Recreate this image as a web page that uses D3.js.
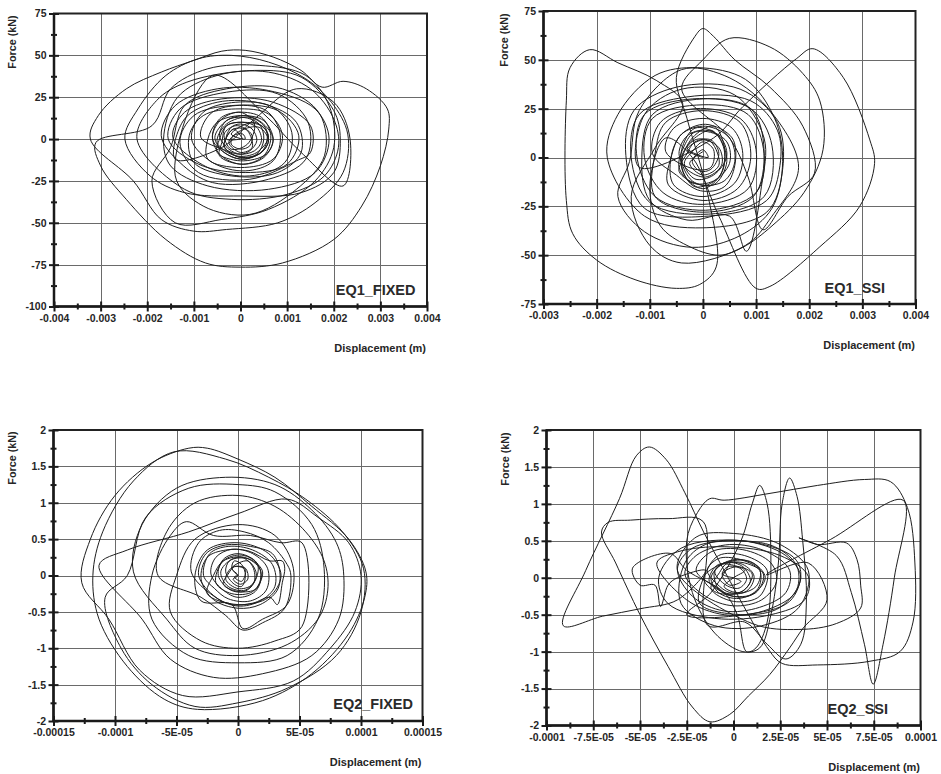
<!DOCTYPE html>
<html>
<head>
<meta charset="utf-8">
<script src="https://cdn.jsdelivr.net/npm/d3@7"></script>
<style>
  body { margin: 0; background: #fff; }
  svg text { font-family: "Liberation Sans", Arial, sans-serif; font-weight: bold; fill: #262626; }
</style>
</head>
<body>
<svg id="chart" width="941" height="774"></svg>
<script>
// ---- tick values / labels ----
const eq1FixedXTicks = [-0.004, -0.003, -0.002, -0.001, 0, 0.001, 0.002, 0.003, 0.004];
const eq1FixedXLabels = ['-0.004', '-0.003', '-0.002', '-0.001', '0', '0.001', '0.002', '0.003', '0.004'];
const eq1FixedYTicks = [-100, -75, -50, -25, 0, 25, 50, 75];
const eq1SsiXTicks = [-0.003, -0.002, -0.001, 0, 0.001, 0.002, 0.003, 0.004];
const eq1SsiXLabels = ['-0.003', '-0.002', '-0.001', '0', '0.001', '0.002', '0.003', '0.004'];
const eq1SsiYTicks = [-75, -50, -25, 0, 25, 50, 75];
const eq2FixedXTicks = [-0.00015, -0.0001, -0.00005, 0, 0.00005, 0.0001, 0.00015];
const eq2FixedXLabels = ['-0.00015', '-0.0001', '-5E-05', '0', '5E-05', '0.0001', '0.00015'];
const eq2SsiXTicks = [-0.0001, -0.000075, -0.00005, -0.000025, 0, 0.000025, 0.00005, 0.000075, 0.0001];
const eq2SsiXLabels = ['-0.0001', '-7.5E-05', '-5E-05', '-2.5E-05', '0', '2.5E-05', '5E-05', '7.5E-05', '0.0001'];
const eq2YTicks = [-2, -1.5, -1, -0.5, 0, 0.5, 1, 1.5, 2];

// ---- loops: [displacement, force (kN)] ----
// EQ1 displacement columns are in mm, EQ2 in 1E-05 m
const eq1Unit = 1e-3;
const eq2Unit = 1e-5;

const eq1FixedBuild = [
  [0,0],[-0.3,0],[-0.2,7],[0,9],[0.25,6],[0.35,-1],[0.2,-7],[0,-9],[-0.25,-6],
  [-0.45,2],[-0.3,11],[0.05,13],[0.4,9],[0.5,0],[0.35,-9],[0,-12],[-0.35,-8],
  [-0.6,0],[-0.45,12],[-0.05,16],[0.45,13],[0.65,2],[0.5,-10],[0.05,-15],[-0.45,-10],
  [-0.4,-2],[-0.3,8],[0.1,10],[0.5,7],[0.6,-1],[0.45,-8],[0,-11],[-0.3,-7],
  [-0.85,1],[-0.65,15],[-0.1,20],[0.55,17],[0.85,3],[0.7,-13],[0.1,-19],[-0.6,-14],
  [-1.05,0],[-0.8,16],[-0.1,22],[0.7,19],[1.1,4],[0.95,-14],[0.2,-22],[-0.7,-17],
  [-1.45,1],[-1.2,16],[-0.4,24],[0.7,22],[1.5,8],[1.5,-8],[1.2,-13],[0.2,-24],[-0.9,-20],
  [-1.3,-2],[-1.0,14],[-0.2,20],[0.8,17],[1.25,2],[1.0,-15],[0.1,-20],[-0.9,-15],
  [-1.55,0],[-1.3,18],[-0.3,28],[0.8,27],[1.45,10],[1.4,-12],[0.6,-24],[-0.6,-26],[-1.3,-14],
  [-1.7,2],[-1.4,20],[-0.5,30],[0.6,29],[1.6,18],[1.9,0],[1.6,-20],[0.6,-30],[-0.7,-28],[-1.5,-16]
];
const eq1FixedPeak = [
  [-1.65,0],[-1.35,25],[-0.5,38],[0.6,40],[1.5,30],[2.0,12],[2.1,-5],[1.8,-22],[1.0,-33],[-0.2,-36],[-1.2,-30],
  [-2.22,0],[-1.8,23],[-1.15,34],[0.3,41],[1.3,37],[2.0,17],[2.14,0],[2.0,-20],[1.3,-32],[0,-34],[-1.2,-32],[-1.94,-22],
  [-2.48,0],[-2.2,18],[-1.6,38],[-0.9,48],[-0.2,50],[0.6,46],[1.4,36],[1.95,22],[2.3,3],[2.2,-20],[1.6,-38],[0.8,-50],[-0.3,-54],[-1.0,-55],[-1.7,-48],[-2.3,-25],
  [-3.22,0],[-3.05,14],[-2.45,30],[-1.7,40],[-1.0,47],[-0.4,52.5],[0.1,53],[0.7,49],[1.3,41],[1.75,31],[2.2,34.5],[2.7,30],[3.15,18],[3.18,6],[3.0,-16],[2.6,-40],[2.0,-60],[0.9,-74],[0,-76.5],[-0.75,-74],[-1.6,-60],[-2.45,-36],[-3.0,-16],[-3.1,-2],
  [-1.9,8],[-1.5,30],[-0.7,42],[0.4,44],[1.4,38],[1.9,20],[2.0,-5],[1.6,-25],[0.6,-42],[-0.4,-48],[-1.4,-50],[-1.9,-25],
  [-1.5,-5],[-1.2,20],[-0.3,30],[0.9,30],[1.7,15],[1.8,-10],[1.2,-30],[0.2,-45],[-0.8,-40],[-1.4,-22],
  [-0.6,38],[0.5,15],[1.3,-8],[2.2,-28],[2.35,0],[2.0,22],[1.2,30],[0.3,12],[-0.4,-5]
];
const eq1FixedDecay = [
  [-1.4,-12],[-1.2,12],[-0.5,22],[0.5,21],[1.2,10],[1.3,-8],[0.8,-20],[-0.2,-22],[-1.0,-14],
  [-1.1,2],[-0.8,14],[-0.1,18],[0.6,15],[0.9,2],[0.7,-12],[0,-17],[-0.7,-12],
  [-0.7,0],[-0.5,10],[0,14],[0.5,11],[0.7,0],[0.55,-9],[0,-13],[-0.5,-8],
  [-0.45,0],[-0.3,8],[0.05,10],[0.35,7],[0.45,-1],[0.3,-7],[-0.05,-9],[-0.35,-5],
  [-0.3,1],[-0.15,6],[0.1,6],[0.25,2],[0.2,-4],[0,-6],[-0.2,-3],[-0.15,2],[0.05,3],[0.1,0]
];
const eq1FixedCore = [
  [-0.2,3],[0.3,10],[0.6,2],[0.35,-8],[-0.1,-10],[-0.5,-2],[-0.3,9],[0.2,13],[0.55,6],[0.5,-6],
  [0.1,-12],[-0.35,-8],[-0.55,1],[-0.3,11],[0.1,14],[0.45,10],[0.7,0],[0.5,-11],[0,-15],[-0.45,-9],
  [-0.6,2],[-0.4,12],[0,16],[0.3,9],[0.15,-3],[-0.2,-6],[-0.35,3],[-0.1,8],[0.15,5],[0.25,-5],
  [0,-8],[-0.25,-2],[0,5],[0.4,7],[0.6,-1],[0.4,-9],[0,-11],[-0.35,-4],[-0.15,6],[0.05,0]
];

const eq1SsiBuild = [
  [0,0],[-0.3,4],[0,9],[0.3,5],[0.35,-4],[0.05,-10],[-0.3,-6],
  [-0.45,2],[-0.3,11],[0.05,14],[0.45,8],[0.5,-3],[0.2,-12],[-0.2,-13],[-0.45,-5],
  [-0.35,6],[-0.15,13],[0.3,11],[0.45,1],[0.2,-9],[-0.15,-11],[-0.35,-3],
  [-0.2,3],[0,8],[0.2,4],[0.15,-5],[-0.15,-6],
  [-0.7,3],[-0.55,15],[0,20],[0.55,15],[0.75,2],[0.6,-13],[0,-20],[-0.55,-14],
  [-0.6,0],[-0.4,12],[0.05,17],[0.55,10],[0.6,-4],[0.4,-15],[-0.05,-17],[-0.5,-9],
  [-0.95,2],[-0.8,18],[-0.15,25],[0.7,20],[1.0,4],[0.85,-16],[0,-24],[-0.75,-18],
  [-1.1,0],[-0.95,20],[0,27],[0.85,22],[1.15,2],[1.0,-18],[0.05,-27],[-0.9,-20],
  [-1.25,2],[-1.1,22],[-0.2,30],[0.9,25],[1.3,6],[1.15,-20],[0.1,-29],[-1.0,-23],
  [-1.35,0],[-1.2,22],[-0.3,31],[0.9,29],[1.4,14],[1.45,-4],[1.2,-22],[0.1,-30],[-1.1,-26],
  [-1.45,1],[-1.3,24],[-0.5,36],[0.7,35],[1.4,18],[1.5,-6],[1.2,-28],[0,-36],[-1.1,-30]
];
const eq1SsiPeak = [
  [-1.8,0],[-1.6,22],[-0.9,42],[-0.1,46],[0.8,40],[1.35,20],[1.5,-2],[1.3,-26],[0.7,-40],[-0.2,-46],[-1.1,-38],[-1.6,-20],
  [-1.38,-2],[-1.2,24],[-0.4,45],[0.4,42],[1.2,26],[1.8,-5],[1.3,-30],[0.8,-45],[-0.4,-54],[-1.0,-45],[-1.35,-20],
  [-0.9,5],[-0.38,27.6],[-0.88,39.5],[-1.6,48.5],[-2.13,55.2],[-2.5,46],[-2.57,29],[-2.57,-22],[-2.45,-39],[-2.0,-52.5],[-1.26,-62.7],[-0.5,-67],[-0.06,-65],[0.25,-56],[0.1,-20],[-0.3,20],
  [-0.5,41],[-0.15,62],[0,66],[0.2,62],[0.6,50],[1.26,36],[1.88,16],[2.1,-8],[1.6,-20],[1.13,-37],[0.85,-10],[0.5,10],
  [-0.4,35],[0,50],[0.5,61],[1.26,56.6],[1.88,43],[2.2,29],[2.26,4],[1.9,-18],[1.3,-35],[0.75,-46],[0.3,-50],[-0.3,-45],[-0.8,-35],[-1.0,-15],
  [-0.7,10],[-0.2,0],[0.3,-30],[1.0,-67],[1.26,-66],[2.2,-45.7],[2.95,-25],[3.23,-3],[3.14,9],[2.64,41],[2.07,55.7],[1.76,50.6],[0.75,26],[0.2,10]
];
const eq1SsiDecay = [
  [-1.2,-5],[-1.1,22],[-0.4,35],[0.6,32],[1.15,10],[1.1,-15],[0.82,-48],[0.5,-30],[-0.3,-32],[-1.0,-22],
  [-1.15,0],[-0.95,22],[0,30],[0.9,25],[1.15,4],[0.95,-20],[0,-28],[-0.9,-20],
  [-0.9,2],[-0.7,18],[0,24],[0.7,18],[0.9,0],[0.65,-16],[0,-22],[-0.65,-14],
  [-0.6,0],[-0.4,12],[0.05,16],[0.5,10],[0.6,-2],[0.4,-12],[-0.05,-14],[-0.45,-7],
  [-0.3,2],[-0.15,8],[0.15,9],[0.3,2],[0.15,-6],[-0.05,-7],[-0.2,-2],[0,4],[0.1,0]
];
const eq1SsiCore = [
  [-0.3,5],[0.15,14],[0.4,4],[0.3,-10],[-0.15,-15],[-0.4,-4],[-0.2,10],[0.2,16],[0.4,6],[0.35,-8],
  [0,-16],[-0.35,-9],[-0.4,4],[-0.15,15],[0.25,12],[0.45,-2],[0.2,-14],[-0.2,-12],[-0.4,0],[-0.15,9],
  [0.15,8],[0.3,-4],[0,-9],[-0.25,-3],[0,3]
];

const eq2FixedBuild = [
  [0,0],[-0.5,0.1],[-0.3,0.2],[0.3,0.15],[0.6,0],[0.3,-0.15],[-0.3,-0.12],
  [-1.0,0.05],[-0.7,0.2],[0.3,0.25],[1.2,0.12],[1.3,-0.1],[0.5,-0.22],[-0.6,-0.2],
  [-1.6,0],[-1.2,0.22],[0,0.3],[1.4,0.2],[1.9,0],[1.4,-0.22],[0,-0.3],[-1.2,-0.2],
  [-2.2,0.02],[-1.8,0.25],[-0.5,0.36],[1.2,0.3],[2.4,0.1],[2.3,-0.2],[1.0,-0.35],[-0.8,-0.32],[-1.9,-0.18],
  [-2.8,0],[-2.3,0.3],[-0.8,0.4],[1.2,0.35],[2.8,0.15],[3.0,-0.15],[1.8,-0.35],[0,-0.42],[-1.8,-0.3],
  [-3.2,0],[-2.6,0.3],[-1.0,0.42],[1.0,0.4],[2.8,0.3],[3.4,0.05],[3.2,-0.2],[1.8,-0.4],[0,-0.45],[-2.0,-0.33],
  [-3.0,-0.05],[-2.5,0.25],[-1.0,0.35],[0.8,0.34],[2.6,0.2],[3.6,0.2],[3.8,0.1],[3.6,-0.1],[3.2,-0.4],[2.6,-0.3],[1.2,-0.38],[-0.5,-0.4],[-2.0,-0.28],
  [-3.8,0.05],[-3.2,0.45],[-1.5,0.62],[0.5,0.6],[2.5,0.45],[4.0,0.15],[4.3,0],[3.8,-0.45],[2.0,-0.65],[0.4,-0.75],[-1.0,-0.55],[-3.0,-0.3]
];
const eq2FixedPeak = [
  [-6.5,0],[-5.8,0.6],[-3.5,1.0],[0,1.1],[3,0.95],[5.5,0.6],[7,0.2],[7.3,-0.2],[6.5,-0.6],[4,-0.95],[0,-1.1],[-3.5,-1.0],[-5.8,-0.6],
  [-8.5,0.05],[-7.8,0.7],[-5,1.2],[-1,1.35],[3,1.25],[6,0.9],[8,0.45],[8.6,0],[8.2,-0.6],[6,-1.1],[2,-1.35],[-2,-1.4],[-5.5,-1.15],[-7.8,-0.6],
  [-11.3,0.14],[-9,0.35],[-4,0.6],[0,0.85],[4,1.05],[6.5,0.8],[9,0.45],[10,0],[9.5,-0.5],[7.5,-1.0],[4.5,-1.45],[0,-1.6],[-4.5,-1.65],[-8,-1.3],[-10.5,-0.6],
  [-12.7,-0.1],[-12.0,0.5],[-10,1.1],[-7,1.55],[-4,1.75],[-2.5,1.75],[0,1.6],[3,1.35],[6,0.95],[9,0.5],[10.4,0.05],[10.3,-0.3],[9,-0.8],[6,-1.35],[2,-1.72],[-3.3,-1.84],[-6,-1.7],[-9,-1.25],[-11.3,-0.6],[-11.8,0],
  [-11.0,0.6],[-8.5,1.3],[-5.2,1.7],[-1,1.6],[2.5,1.35],[5.5,1.05],[8.5,0.6],[10.2,0.1],[10.0,-0.5],[8,-1.1],[4,-1.55],[0,-1.75],[-3.5,-1.8],[-7,-1.5],[-9.5,-1.0],[-10.8,-0.3]
];
const eq2FixedDecay = [
  [-9,0],[-7.5,0.8],[-4,1.2],[0,1.25],[3,1.15],[6,0.7],[7,0.1],[6.5,-0.6],[4,-1.1],[0,-1.2],[-4,-1.1],[-7,-0.6],
  [-7,0],[-5.5,0.55],[-4.2,0.74],[-2,0.55],[1,0.55],[3.5,0.45],[5.2,0.45],[5.2,-0.7],[3,-0.9],[0,-1.0],[-3,-0.9],[-5.5,-0.5],
  [-5,0],[-3.5,0.5],[0,0.7],[3,0.55],[4.5,0.1],[4.0,-0.4],[2,-0.6],[0.4,-0.73],[-0.5,-0.4],[-3,-0.35],
  [-3.5,0],[-2.5,0.35],[0,0.45],[2.5,0.3],[3.5,0],[2.5,-0.3],[0,-0.4],[-2.5,-0.25],
  [-2,0],[-1.2,0.2],[0.5,0.25],[1.8,0.08],[1.5,-0.18],[0,-0.22],[-1.2,-0.12],
  [-0.8,0.02],[-0.3,0.12],[0.6,0.1],[0.8,-0.05],[0.2,-0.12],[-0.4,-0.05],[0,0]
];
const eq2FixedCore = [
  [-0.5,0.1],[0.8,0.2],[1.5,0],[0.6,-0.2],[-0.8,-0.15],[-1.4,0.05],[-0.5,0.22],[1.0,0.22],[2.0,0.05],[1.2,-0.22],
  [-0.5,-0.25],[-1.8,-0.1],[-1.2,0.2],[0.3,0.28],[1.6,0.15],[1.2,-0.12],[0,-0.18],[-1.0,-0.05],[-0.4,0.12],[0.6,0.08],
  [0.3,-0.08],[-0.3,-0.02],[0,0]
];

const eq2SsiBuild = [
  [0,0],[-0.6,0.05],[-0.3,0.15],[0.4,0.12],[0.7,-0.02],[0.3,-0.14],[-0.4,-0.1],
  [-1.0,0.08],[-0.5,0.2],[0.5,0.18],[1.1,0.02],[0.7,-0.18],[-0.2,-0.2],[-0.9,-0.08],
  [-1.4,0.1],[-0.8,0.26],[0.3,0.25],[1.4,0.1],[1.3,-0.15],[0.3,-0.28],[-0.8,-0.2],
  [-1.2,0],[-0.6,0.18],[0.6,0.2],[1.6,0.05],[1.2,-0.2],[0,-0.25],[-1.0,-0.12],
  [-2.0,0.1],[-1.2,0.35],[0.5,0.38],[2.0,0.2],[2.3,-0.05],[1.5,-0.3],[0,-0.38],[-1.5,-0.25],
  [-2.6,0.05],[-2.0,0.3],[-0.2,0.45],[1.8,0.35],[3.0,0.1],[2.8,-0.2],[1.4,-0.4],[-0.5,-0.45],[-2.2,-0.25],
  [-3.0,0.12],[-2.2,0.4],[0,0.5],[2.2,0.42],[3.4,0.15],[3.3,-0.2],[1.6,-0.45],[-0.5,-0.5],[-2.5,-0.3],
  [-4.1,0.2],[-3.0,0.35],[-0.5,0.42],[2.5,0.3],[4.0,0.02],[3.8,-0.3],[2.0,-0.5],[-1.0,-0.55],[-3.5,-0.35],
  [-4.0,0],[-2.8,0.4],[0.5,0.5],[3.2,0.28],[3.6,0.05],[3.0,-0.32],[0.6,-0.5],[-2.5,-0.5]
];
const eq2SsiPeak = [
  [-1.2,-0.2],[0.4,0.5],[1.0,1.0],[1.4,1.25],[1.8,1.0],[2.0,0.2],[1.8,-0.6],[1.2,-0.95],[0.7,-1.0],[0.2,-0.5],[-0.5,-0.2],
  [-2.5,0.1],[-3.4,0.33],[-5.4,0.13],[-5.0,-0.1],[-4.2,-0.1],[-3.9,-0.39],[-3.5,-0.1],[-3.0,0.0],
  [-1.5,0.1],[-3.0,-0.3],[-5.0,-0.42],[-7.0,-0.52],[-9.1,-0.65],[-7.9,0.1],[-6.1,1.07],[-5.2,1.65],[-4.5,1.77],[-3.6,1.6],[-2.6,1.15],[-1.6,0.62],[-0.5,0.1],[0.8,-0.5],[1.9,-0.98],[2.6,-1.16],
  [4.5,-1.18],[7.3,-1.13],[8.9,-1.0],[9.6,-0.6],[9.7,0.2],[9.3,0.95],[8.4,1.3],[7.0,1.33],[4.5,1.25],[1.9,1.14],[-0.5,1.05],[-1.27,1.07],[-2.0,0.85],[-2.5,0.5],[-2.2,-0.2],[-1.0,-0.75],[0.5,-1.0],[1.4,-0.95],[2.0,-0.5],
  [2.4,0.2],[2.6,1.0],[3.0,1.35],[3.4,1.1],[3.7,0.5],[3.9,-0.3],[3.6,-0.9],[2.8,-1.1],[1.8,-0.9],[0.6,-0.6],
  [-1.4,-0.64],[-1.62,0.76],[-3.5,0.8],[-5.5,0.78],[-6.7,0.75],[-7.06,0.62],[-6.3,0.2],[-5.0,-0.5],[-3.5,-1.2],[-2.2,-1.75],[-1.26,-1.95],[-0.2,-1.85],[0.8,-1.6],[1.94,-1.31],[3.0,-0.95],[3.73,-0.68],[5.0,-0.3],
  [4.0,0.2],[1.76,0.04],[5.2,0.52],[9.07,1.05],[8.6,0],[8.0,-0.9],[7.47,-1.44],[7.0,-0.9],[6.3,-0.2],[5.5,0.3],[3.5,0.54],[4.5,0.45],[6.05,0.47],[6.6,0.25],[6.8,-0.1],[6.8,-0.41],[5.5,-0.62],[3.5,-0.7],[1.0,-0.62]
];
const eq2SsiDecay = [
  [-3.0,0.1],[-2.0,0.55],[0,0.6],[2.5,0.45],[4.0,0.1],[3.5,-0.4],[1.5,-0.65],[-1.0,-0.65],[-2.8,-0.35],
  [-2.6,0.2],[-1.5,0.45],[0.5,0.5],[2.8,0.3],[3.6,0],[2.5,-0.4],[0.5,-0.5],[-1.8,-0.35],
  [-1.6,0],[-0.8,0.3],[0.6,0.3],[1.8,0.1],[1.4,-0.25],[0,-0.32],[-1.2,-0.15],
  [-0.8,0.05],[-0.3,0.2],[0.5,0.15],[0.9,-0.05],[0.3,-0.2],[-0.5,-0.12],[0,0]
];
const eq2SsiCore = [
  [0.6,0.1],[-0.8,0.18],[-1.3,-0.05],[-0.2,-0.22],[1.2,-0.12],[1.4,0.12],[0.2,0.25],[-1.0,0.1],[-0.7,-0.18],[0.8,-0.25],
  [1.7,0.0],[0.9,0.22],[-0.5,0.2],[-1.6,0.0],[-0.9,-0.2],[0.5,-0.18],[1.0,0.05],[0.2,0.15],[-0.6,0.05],[-0.2,-0.1],
  [0.4,-0.05],[0,0]
];

const panels = [
  { tag: 'EQ1_FIXED', unit: eq1Unit, loops: [eq1FixedBuild, eq1FixedPeak, eq1FixedDecay, eq1FixedCore],
    xTicks: eq1FixedXTicks, xLabels: eq1FixedXLabels, yTicks: eq1FixedYTicks, yLabels: eq1FixedYTicks.map(String),
    left: 54, right: 427, top: 13.5, bottom: 306.5, yTitle: [12, 42], xTitle: [426, 351.5], tagPos: [415.5, 295] },
  { tag: 'EQ1_SSI', unit: eq1Unit, loops: [eq1SsiBuild, eq1SsiPeak, eq1SsiDecay, eq1SsiCore],
    xTicks: eq1SsiXTicks, xLabels: eq1SsiXLabels, yTicks: eq1SsiYTicks, yLabels: eq1SsiYTicks.map(String),
    left: 543.5, right: 915.5, top: 11, bottom: 304, yTitle: [503.5, 40], xTitle: [915, 348.5], tagPos: [885, 292.5] },
  { tag: 'EQ2_FIXED', unit: eq2Unit, loops: [eq2FixedBuild, eq2FixedPeak, eq2FixedDecay, eq2FixedCore],
    xTicks: eq2FixedXTicks, xLabels: eq2FixedXLabels, yTicks: eq2YTicks, yLabels: eq2YTicks.map(String),
    left: 53.5, right: 422.5, top: 430, bottom: 721, yTitle: [12, 458], xTitle: [421.5, 766], tagPos: [413, 708.5] },
  { tag: 'EQ2_SSI', unit: eq2Unit, loops: [eq2SsiBuild, eq2SsiPeak, eq2SsiDecay, eq2SsiCore],
    xTicks: eq2SsiXTicks, xLabels: eq2SsiXLabels, yTicks: eq2YTicks, yLabels: eq2YTicks.map(String),
    left: 546.5, right: 920.5, top: 430, bottom: 725.5, yTitle: [505, 459], xTitle: [920, 770.5], tagPos: [888, 713.5] }
];

const svg = d3.select('#chart');

const midpoints = (arr) => arr.slice(1).map((v, i) => (v + arr[i]) / 2);

panels.forEach((p, k) => {
  const g = svg.append('g');
  const x = d3.scaleLinear().domain([p.xTicks[0], p.xTicks[p.xTicks.length - 1]]).range([p.left, p.right]);
  const y = d3.scaleLinear().domain([p.yTicks[0], p.yTicks[p.yTicks.length - 1]]).range([p.bottom, p.top]);

  // grid
  g.append('g').selectAll('line')
    .data(p.xTicks.slice(1, -1))
    .join('line')
    .attr('x1', (d) => Math.round(x(d)) + 0.5).attr('x2', (d) => Math.round(x(d)) + 0.5)
    .attr('y1', p.top).attr('y2', p.bottom)
    .style('stroke', '#6a6a6a').style('stroke-width', 1);
  g.append('g').selectAll('line')
    .data(p.yTicks.slice(1, -1))
    .join('line')
    .attr('y1', (d) => Math.round(y(d)) + 0.5).attr('y2', (d) => Math.round(y(d)) + 0.5)
    .attr('x1', p.left).attr('x2', p.right)
    .style('stroke', '#6a6a6a').style('stroke-width', 1);

  // hysteresis curve
  const clipId = 'clip' + k;
  g.append('clipPath').attr('id', clipId)
    .append('rect').attr('x', p.left).attr('y', p.top)
    .attr('width', p.right - p.left).attr('height', p.bottom - p.top);
  const line = d3.line()
    .x((d) => x(d[0] * p.unit))
    .y((d) => y(d[1]))
    .curve(d3.curveCatmullRom.alpha(0.5));
  g.append('path')
    .datum([].concat(...p.loops))
    .attr('clip-path', `url(#${clipId})`)
    .attr('d', line)
    .style('fill', 'none')
    .style('stroke', '#1e1e1e')
    .style('stroke-width', 1)
    .style('stroke-linejoin', 'round');

  // frame
  g.append('rect')
    .attr('x', p.left).attr('y', p.top)
    .attr('width', p.right - p.left).attr('height', p.bottom - p.top)
    .style('fill', 'none').style('stroke', '#222').style('stroke-width', 2);
  g.append('line').attr('x1', p.left).attr('x2', p.left).attr('y1', p.top).attr('y2', p.bottom + 1)
    .style('stroke', '#1a1a1a').style('stroke-width', 2.5);
  g.append('line').attr('x1', p.left - 1).attr('x2', p.right).attr('y1', p.bottom).attr('y2', p.bottom)
    .style('stroke', '#1a1a1a').style('stroke-width', 2.5);

  // x axis: major ticks crossing the axis line, minor ticks at midpoints
  const xAxis = g.append('g')
    .attr('transform', `translate(0,${p.bottom - 5})`)
    .call(d3.axisBottom(x).tickValues(p.xTicks).tickFormat((d, i) => p.xLabels[i]).tickSize(10).tickPadding(3));
  const xMinor = g.append('g')
    .attr('transform', `translate(0,${p.bottom - 3})`)
    .call(d3.axisBottom(x).tickValues(midpoints(p.xTicks)).tickFormat('').tickSize(6));

  // y axis
  const yAxis = g.append('g')
    .attr('transform', `translate(${p.left + 5},0)`)
    .call(d3.axisLeft(y).tickValues(p.yTicks).tickFormat((d, i) => p.yLabels[i]).tickSize(10).tickPadding(2.5));
  const yMinor = g.append('g')
    .attr('transform', `translate(${p.left + 3},0)`)
    .call(d3.axisLeft(y).tickValues(midpoints(p.yTicks)).tickFormat('').tickSize(6));

  [xAxis, xMinor, yAxis, yMinor].forEach((a) => {
    a.select('.domain').remove();
    a.selectAll('.tick line').style('stroke', '#1a1a1a').style('stroke-width', 2);
    a.selectAll('text')
      .style('font-family', '"Liberation Sans", Arial, sans-serif')
      .style('font-weight', 'bold')
      .style('font-size', '10.5px')
      .style('fill', '#262626');
  });

  // titles
  g.append('text')
    .attr('transform', `translate(${p.yTitle[0]},${p.yTitle[1]}) rotate(-90)`)
    .attr('text-anchor', 'middle')
    .attr('dominant-baseline', 'central')
    .style('font-size', '10.8px')
    .text('Force (kN)');
  g.append('text')
    .attr('x', p.xTitle[0]).attr('y', p.xTitle[1])
    .attr('text-anchor', 'end')
    .style('font-size', '11px')
    .text('Displacement (m)');
  g.append('text')
    .attr('x', p.tagPos[0]).attr('y', p.tagPos[1])
    .attr('text-anchor', 'end')
    .style('font-size', '14.5px')
    .style('fill', '#2a2a2a')
    .text(p.tag);
});
</script>
</body>
</html>
